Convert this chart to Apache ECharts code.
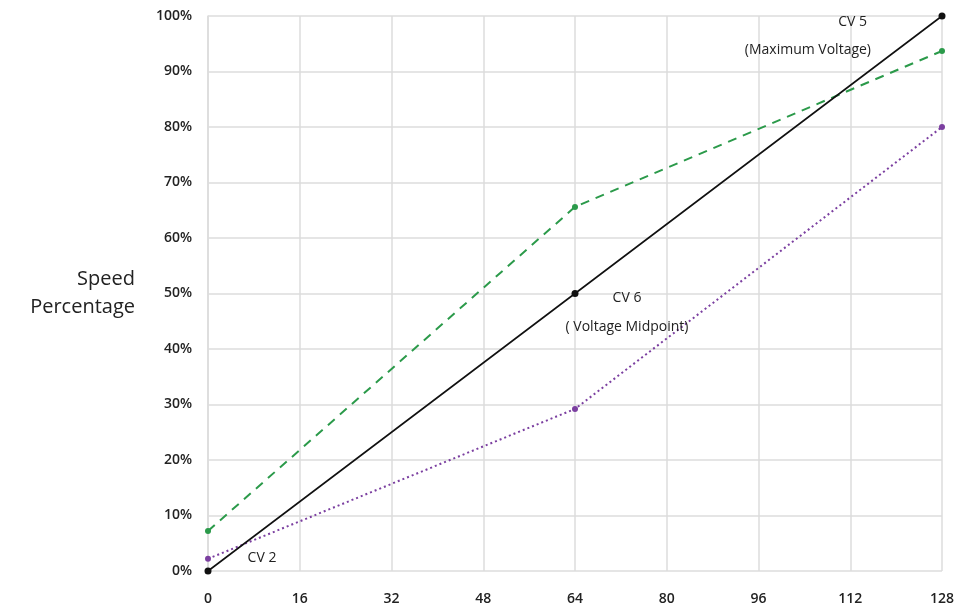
<!DOCTYPE html>
<html><head><meta charset="utf-8">
<script src="https://cdn.jsdelivr.net/npm/echarts@6/dist/echarts.min.js"></script>
<style>html,body{margin:0;padding:0;background:#fff}#c{width:958px;height:608px}</style>
</head><body><div id="c"></div>
<script>
const xTicks = [0, 16, 32, 48, 64, 80, 96, 112, 128];
const xPoints = [0, 64, 128];
const linearValues = [0, 50, 100];
const greenValues = [7.2, 65.6, 93.7];
const purpleValues = [2.2, 29.2, 80];
const pointLabels = ['CV 2', 'CV 6\n( Voltage Midpoint)', 'CV 5\n(Maximum Voltage)'];

const FONT = 'Open Sans';
const chart = echarts.init(document.getElementById('c'));
const pair = (vals) => xPoints.map((x, i) => [x, vals[i]]);

const labelCfg = [
  {show: true, position: 'inside', offset: [54, -13], formatter: pointLabels[0]},
  {show: true, position: 'inside', offset: [52, 19], lineHeight: 29, formatter: pointLabels[1]},
  {show: true, position: 'inside', offset: [-71, 20], lineHeight: 28, align: 'right',
   formatter: '{a|CV 5}\n{b|(Maximum Voltage)}',
   rich: {a: {fontFamily: FONT, fontSize: 14, color: '#222', padding: [0, 4, 0, 0], lineHeight: 28},
          b: {fontFamily: FONT, fontSize: 14, color: '#222', lineHeight: 28}}}
];

chart.setOption({
  animation: false,
  grid: {left: 208, right: 16, top: 16, bottom: 37},
  xAxis: {
    type: 'value', min: 0, max: 128, interval: 16,
    axisLine: {show: false}, axisTick: {show: false},
    splitLine: {show: true, lineStyle: {color: '#dcdcdc', width: 1.5}},
    axisLabel: {margin: 21, fontFamily: FONT, fontSize: 14, color: '#222', fontWeight: 600,
      formatter: v => xTicks.includes(v) ? String(v) : ''}
  },
  yAxis: {
    type: 'value', min: 0, max: 100, interval: 10,
    name: 'Speed\nPercentage', nameLocation: 'middle', nameRotate: 0, nameGap: 73,
    nameTextStyle: {fontFamily: FONT, fontSize: 20, color: '#222', lineHeight: 28, align: 'right'},
    axisLine: {show: true, lineStyle: {color: '#dcdcdc', width: 1.5}}, axisTick: {show: false},
    splitLine: {show: true, lineStyle: {color: '#dcdcdc', width: 1.5}},
    axisLabel: {margin: 16, fontFamily: FONT, fontSize: 14, color: '#222', fontWeight: 600,
      formatter: v => v + '%'}
  },
  series: [
    {type: 'line', data: pair(greenValues), symbol: 'circle', symbolSize: 6,
     lineStyle: {color: '#2b9a4a', width: 2, type: [9, 7]}, itemStyle: {color: '#2b9a4a'}, z: 2},
    {type: 'line', data: pair(purpleValues), symbol: 'circle', symbolSize: 6,
     lineStyle: {color: '#7b3fa0', width: 2, type: [2, 3]}, itemStyle: {color: '#7b3fa0'}, z: 2},
    {type: 'line', symbol: 'circle', symbolSize: 7,
     data: pair(linearValues).map((p, i) => ({value: p, label: labelCfg[i]})),
     lineStyle: {color: '#111', width: 1.6}, itemStyle: {color: '#111'},
     label: {fontFamily: FONT, fontSize: 14, color: '#222'}, z: 3}
  ]
});
</script></body></html>
